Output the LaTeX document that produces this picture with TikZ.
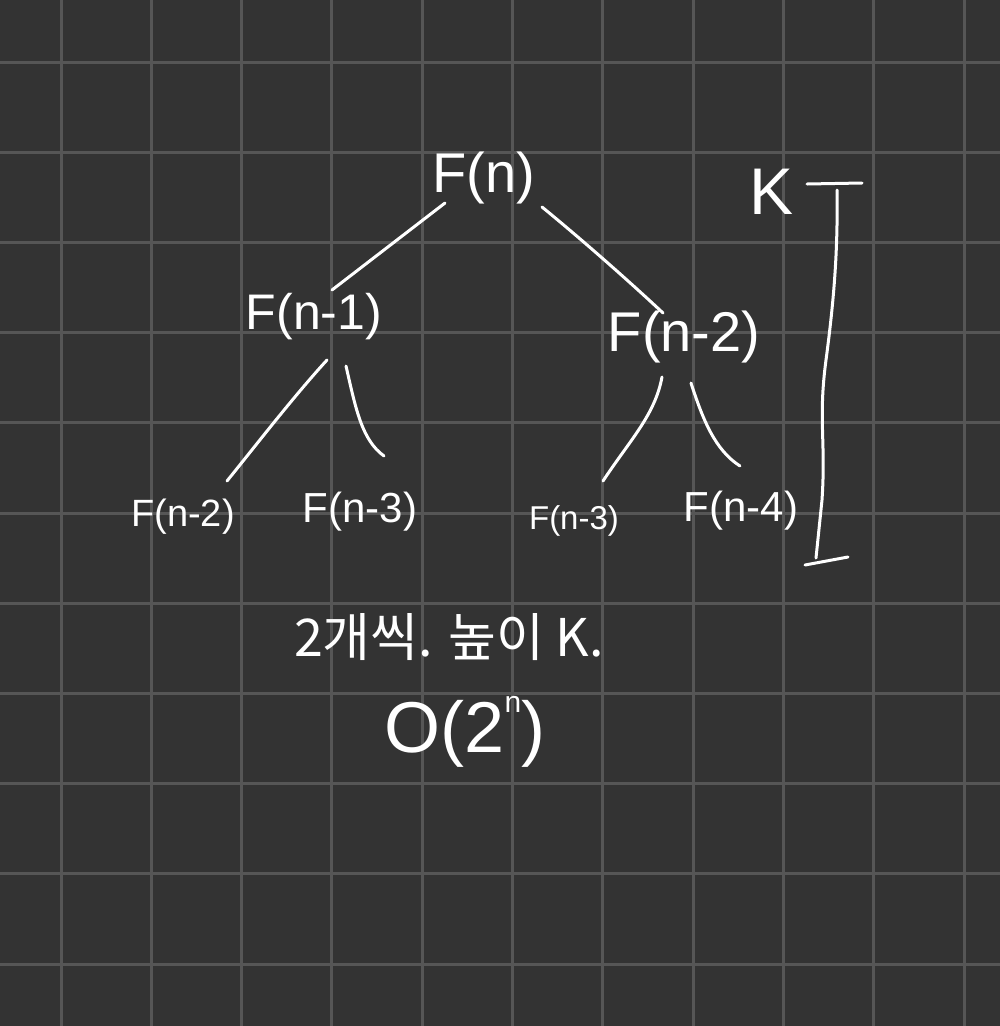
\documentclass[tikz,border=0pt]{standalone}
\usepackage{fontspec}
\setmainfont{Liberation Sans}
\newfontfamily\kofont{Noto Sans CJK KR}
\begin{document}
\begin{tikzpicture}[x=1pt,y=-1pt,
  ink/.style={draw=white,line width=3pt,line cap=round,line join=round},
  gridline/.style={draw=gridgray,line width=3pt},
  lbl/.style={text=white,inner sep=0pt},
  fs/.style={font=\fontsize{#1}{#1}\selectfont}]
\definecolor{bgc}{HTML}{333333}
\definecolor{gridgray}{HTML}{565656}
\useasboundingbox (0,0) rectangle (1000,1026);
\fill[bgc] (0,0) rectangle (1000,1026);
\foreach \g in {61,151.3,241.6,331.9,422.2,512.5,602.8,693.1,783.4,873.7,964}{
  \draw[gridline] (\g,0) -- (\g,1026);
}
\foreach \g in {62,152.2,242.4,332.6,422.8,513,603.2,693.4,783.6,873.8,964}{
  \draw[gridline] (0,\g) -- (1000,\g);
}
% nodes
\node[lbl,fs=56] (root) at (484,178) {F(n)};
\node[lbl,fs=50] (l1) at (314,317) {F(n-1)};
\node[lbl,fs=56] (r1) at (684,337) {F(n-2)};
\node[lbl,fs=38] (ll) at (183,517) {F(n-2)};
\node[lbl,fs=42] (lr) at (360,512) {F(n-3)};
\node[lbl,fs=33] (rl) at (574,521) {F(n-3)};
\node[lbl,fs=42] (rr) at (741,511) {F(n-4)};
\node[lbl,fs=66] (k) at (772,192) {K};
\node[lbl,font=\kofont\fontsize{52}{52}\selectfont] (note) at (449,637) {2개씩. 높이 K.};
\node[lbl,fs=72] (big) at (465,732) {O(2\raisebox{0.55em}{\fontsize{30}{30}\selectfont n})};
% connector end points (hand-drawn, not touching the texts)
\coordinate (a1) at (445,203); \coordinate (a2) at (332,290);
\coordinate (b1) at (542,207); \coordinate (b2) at (663,313);
\coordinate (c1) at (327,360); \coordinate (c2) at (227,481);
\coordinate (d1) at (346,366); \coordinate (d2) at (384,456);
\coordinate (e1) at (662,377); \coordinate (e2) at (603,481);
\coordinate (f1) at (691,383); \coordinate (f2) at (740,466);
% edges
\draw[ink] (a1) -- (a2);
\draw[ink] (b1) .. controls (580,238) and (630,282) .. (b2);
\draw[ink] (c1) .. controls (295,395) and (260,440) .. (c2);
\draw[ink] (d1) .. controls (356,410) and (362,440) .. (d2);
\draw[ink] (e1) .. controls (655,415) and (630,440) .. (e2);
\draw[ink] (f1) .. controls (703,420) and (715,450) .. (f2);
% height bracket
\coordinate (t1) at (807,184);
\coordinate (t2) at (862,183);
\coordinate (v1) at (837,190);
\coordinate (v2) at (816,558);
\coordinate (u1) at (805,565);
\coordinate (u2) at (848,557);
\draw[ink] (t1) -- (t2);
\draw[ink] (v1) .. controls (838,250) and (834,300) .. (826,360) .. controls (818,420) and (826,440) .. (822,500) -- (v2);
\draw[ink] (u1) -- (u2);
\end{tikzpicture}
\end{document}
